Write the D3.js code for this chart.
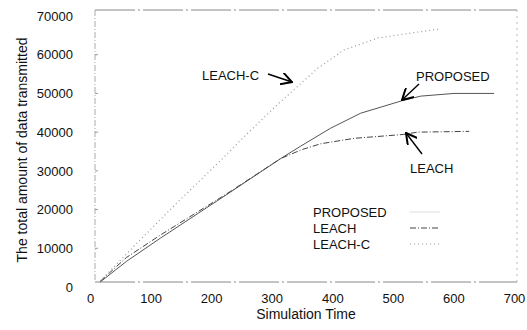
<!DOCTYPE html>
<html>
<head>
<meta charset="utf-8">
<script src="https://cdn.jsdelivr.net/npm/d3@7"></script>
<style>
  body { margin: 0; background: #fff; }
  text { font-family: "Liberation Sans", Arial, sans-serif; fill: #111; }
</style>
</head>
<body>
<div id="chart" style="width:527px;height:330px"></div>
<script>
// data
var proposedTime = [17, 60, 116, 223, 315, 348, 397, 447, 517, 546, 601, 667];
var proposedValue = [1300, 6600, 12600, 23600, 33200, 36400, 41000, 44900, 48200, 49300, 50000, 50000];

var leachTime = [17, 60, 116, 223, 315, 350, 381, 436, 517, 541, 626];
var leachValue = [1500, 7600, 13400, 23800, 33200, 35500, 37000, 38400, 39400, 40000, 40200];

var leachCTime = [17, 78, 144, 212, 253, 310, 376, 419, 475, 530, 576];
var leachCValue = [1560, 11400, 21800, 32100, 38600, 47200, 56500, 61200, 64300, 65600, 66600];

var xTicks = [0, 100, 200, 300, 400, 500, 600, 700];
var yTicks = [0, 10000, 20000, 30000, 40000, 50000, 60000, 70000];

function zip(t, v) {
  return t.map(function(d, i) { return { t: d, v: v[i] }; });
}

function generateChart(id) {
  var container = d3.select("#" + id);
  var width = 527, height = 330;
  var svg = container.append("svg")
    .attr("width", width)
    .attr("height", height);

  var x = d3.scaleLinear().domain([0, 700]).range([90, 514]);
  var y = d3.scaleLinear().domain([0, 70000]).range([287, 16]);

  // arrow marker
  svg.append("defs").append("marker")
    .attr("id", "arr")
    .attr("viewBox", "0 0 10 10")
    .attr("refX", 9).attr("refY", 5)
    .attr("markerWidth", 9).attr("markerHeight", 9)
    .attr("orient", "auto")
    .append("path")
    .attr("d", "M0,0 L9,5 L0,10")
    .attr("fill", "none")
    .attr("stroke", "#000")
    .attr("stroke-width", 1.6);

  // frame
  var frame = { l: 95, r: 517, t: 10, b: 282 };
  svg.append("line").attr("x1", frame.l).attr("x2", frame.r).attr("y1", frame.t).attr("y2", frame.t)
    .attr("stroke", "#888").attr("stroke-dasharray", "40,3,2,3");
  svg.append("line").attr("x1", frame.l).attr("x2", frame.r).attr("y1", frame.b).attr("y2", frame.b)
    .attr("stroke", "#888").attr("stroke-dasharray", "40,3,2,3");
  svg.append("line").attr("x1", frame.l).attr("x2", frame.l).attr("y1", frame.t).attr("y2", frame.b)
    .attr("stroke", "#aaa").attr("stroke-dasharray", "6,2,1,2");
  svg.append("line").attr("x1", frame.r).attr("x2", frame.r).attr("y1", frame.t).attr("y2", frame.b)
    .attr("stroke", "#bbb").attr("stroke-dasharray", "2,4");

  // axes (labels only, the frame is drawn above)
  svg.append("g")
    .attr("transform", "translate(73,0)")
    .call(d3.axisLeft(y).tickValues(yTicks).tickSize(0).tickPadding(0).tickFormat(d3.format("d")));
  svg.append("g")
    .attr("transform", "translate(0,294)")
    .call(d3.axisBottom(x).tickValues(xTicks).tickSize(0).tickPadding(0));
  svg.selectAll(".domain").remove();
  svg.selectAll(".tick text")
    .style("font-family", "Liberation Sans, Arial, sans-serif")
    .style("font-size", "13px")
    .attr("fill", "#111");

  // small inner ticks on left side
  svg.append("g").selectAll("line")
    .data(yTicks.slice(1, -1))
    .join("line")
    .attr("x1", frame.l).attr("x2", frame.l + 3)
    .attr("y1", function(d) { return y(d); })
    .attr("y2", function(d) { return y(d); })
    .attr("stroke", "#999");

  // titles
  svg.append("text")
    .attr("transform", "translate(27,150) rotate(-90)")
    .attr("text-anchor", "middle")
    .style("font-size", "14px")
    .text("The total amount of data transmitted");
  svg.append("text")
    .attr("x", 306).attr("y", 319)
    .attr("text-anchor", "middle")
    .style("font-size", "14px")
    .text("Simulation Time");

  var line = d3.line()
    .x(function(d) { return x(d.t); })
    .y(function(d) { return y(d.v); });

  var series = [
    { name: "PROPOSED", data: zip(proposedTime, proposedValue), color: "#555", dash: null, w: 1 },
    { name: "LEACH", data: zip(leachTime, leachValue), color: "#444", dash: "6,2,1,2", w: 1 },
    { name: "LEACH-C", data: zip(leachCTime, leachCValue), color: "#999", dash: "1,3", w: 1.2 }
  ];

  svg.selectAll(".graphLine")
    .data(series)
    .join("path")
    .classed("graphLine", true)
    .attr("fill", "none")
    .attr("stroke", function(d) { return d.color; })
    .attr("stroke-width", function(d) { return d.w; })
    .attr("stroke-dasharray", function(d) { return d.dash; })
    .attr("d", function(d) { return line(d.data); });

  // legend
  var legend = svg.append("g");
  series.forEach(function(s, i) {
    legend.append("text")
      .attr("x", 313).attr("y", 217 + i * 16)
      .style("font-size", "13px")
      .text(s.name);
    legend.append("line")
      .attr("x1", 410).attr("x2", 440)
      .attr("y1", 212 + i * 16).attr("y2", 212 + i * 16)
      .attr("stroke", i == 0 ? "#ddd" : s.color)
      .attr("stroke-width", 1)
      .attr("stroke-dasharray", s.dash);
  });

  // annotations
  var notes = [
    { text: "LEACH-C", tx: 202, ty: 80, x1: 268, y1: 74, x2: 292, y2: 82 },
    { text: "PROPOSED", tx: 416, ty: 81, x1: 419, y1: 84, x2: 402, y2: 100 },
    { text: "LEACH", tx: 410, ty: 173, x1: 422, y1: 154, x2: 406, y2: 133 }
  ];
  notes.forEach(function(n) {
    svg.append("text")
      .attr("x", n.tx).attr("y", n.ty)
      .style("font-size", "13px")
      .text(n.text);
    svg.append("line")
      .attr("x1", n.x1).attr("y1", n.y1)
      .attr("x2", n.x2).attr("y2", n.y2)
      .attr("stroke", "#000")
      .attr("stroke-width", 1.4)
      .attr("marker-end", "url(#arr)");
  });
}

generateChart("chart");
</script>
</body>
</html>
